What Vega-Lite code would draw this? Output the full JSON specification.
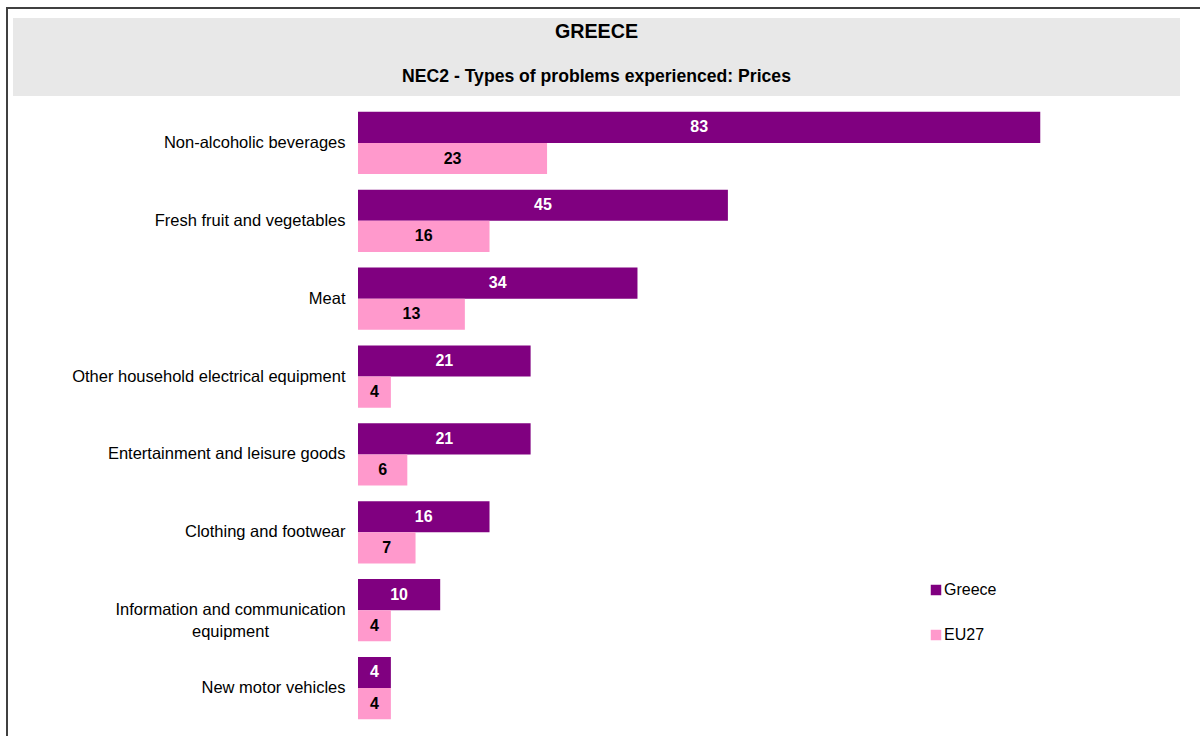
{
  "$schema": "https://vega.github.io/schema/vega-lite/v6.json",
  "padding": {"left": 6, "top": 7, "right": 0, "bottom": 0},
  "autosize": {"type": "pad"},
  "background": "white",
  "config": {"font": "Liberation Sans", "view": {"stroke": null}},
  "spacing": 0,
  "vconcat": [
    {
      "width": 1194,
      "height": 2,
      "view": {"fill": "#404040", "stroke": null},
      "data": {"values": []},
      "mark": "text",
      "encoding": {}
    },
    {
      "spacing": 5,
      "hconcat": [
        {
          "width": 2,
          "height": 730,
          "view": {"fill": "#404040", "stroke": null},
          "data": {"values": []},
          "mark": "text",
          "encoding": {}
        },
        {
          "spacing": 8,
          "vconcat": [
            {
              "width": 1167,
              "height": 1,
              "view": {"fill": "white", "stroke": null},
              "data": {"values": []},
              "mark": "text",
              "encoding": {}
            },
            {
              "width": 1167,
              "height": 78,
              "view": {"fill": "#e8e8e8", "stroke": null},
              "data": {"values": [{"line": "GREECE"}, {"line": "NEC2 - Types of problems experienced: Prices"}]},
              "mark": {"type": "text", "fontWeight": "bold", "color": "black", "baseline": "middle"},
              "encoding": {
                "y": {"field": "line", "type": "nominal", "sort": null, "scale": {"range": [14, 59], "padding": 0}, "axis": null},
                "text": {"field": "line"},
                "size": {"condition": {"test": "datum.line === 'GREECE'", "value": 19.7}, "value": 17.6}
              }
            },
            {
              "width": 1167,
              "height": 623,
              "data": {"values": [
                {"category": "Non-alcoholic beverages", "series": "Greece", "value": 83},
                {"category": "Non-alcoholic beverages", "series": "EU27", "value": 23},
                {"category": "Fresh fruit and vegetables", "series": "Greece", "value": 45},
                {"category": "Fresh fruit and vegetables", "series": "EU27", "value": 16},
                {"category": "Meat", "series": "Greece", "value": 34},
                {"category": "Meat", "series": "EU27", "value": 13},
                {"category": "Other household electrical equipment", "series": "Greece", "value": 21},
                {"category": "Other household electrical equipment", "series": "EU27", "value": 4},
                {"category": "Entertainment and leisure goods", "series": "Greece", "value": 21},
                {"category": "Entertainment and leisure goods", "series": "EU27", "value": 6},
                {"category": "Clothing and footwear", "series": "Greece", "value": 16},
                {"category": "Clothing and footwear", "series": "EU27", "value": 7},
                {"category": "Information and communication equipment", "series": "Greece", "value": 10},
                {"category": "Information and communication equipment", "series": "EU27", "value": 4},
                {"category": "New motor vehicles", "series": "Greece", "value": 4},
                {"category": "New motor vehicles", "series": "EU27", "value": 4}
              ]},
              "encoding": {
                "y": {
                  "field": "category", "type": "nominal", "sort": null,
                  "scale": {"paddingInner": 0.2, "paddingOuter": 0.1},
                  "axis": {
                    "title": null, "domain": false, "ticks": false, "offset": -345,
                    "labelFontSize": 16.5, "labelColor": "black",
                    "labelPadding": {"condition": {"test": "datum.value == 'Information and communication equipment'", "value": 128}, "value": 13},
                    "labelAlign": {"condition": {"test": "datum.value == 'Information and communication equipment'", "value": "center"}, "value": "right"},
                    "labelLimit": 0,
                    "labelExpr": "datum.value == 'Information and communication equipment' ? ['Information and communication', 'equipment'] : datum.value",
                    "labelLineHeight": 22
                  }
                },
                "yOffset": {"field": "series", "type": "nominal", "sort": ["Greece", "EU27"], "scale": {"paddingInner": 0}}
              },
              "layer": [
                {
                  "mark": {"type": "bar"},
                  "encoding": {
                    "x": {"field": "value", "type": "quantitative", "scale": {"domain": [0, 100], "range": [345, 1167]}, "axis": null},
                    "color": {
                      "field": "series", "type": "nominal",
                      "scale": {"domain": ["Greece", "EU27"], "range": ["#800080", "#ff99cc"]},
                      "legend": {
                        "orient": "none", "legendX": 922, "legendY": 575, "title": null,
                        "symbolType": "square", "symbolSize": 110, "symbolStrokeWidth": 0,
                        "labelFontSize": 16, "labelColor": "black", "labelOffset": 0, "rowPadding": 29
                      }
                    }
                  }
                },
                {
                  "mark": {"type": "text", "fontWeight": "bold", "fontSize": 16, "baseline": "middle", "align": "center"},
                  "encoding": {
                    "x": {"field": "value", "type": "quantitative", "scale": {"domain": [0, 200], "range": [345, 1167]}, "axis": null},
                    "text": {"field": "value", "type": "quantitative"},
                    "color": {"condition": {"test": "datum.series === 'Greece'", "value": "white"}, "value": "black"}
                  }
                }
              ],
              "resolve": {"scale": {"x": "independent"}}
            }
          ]
        }
      ]
    }
  ]
}
